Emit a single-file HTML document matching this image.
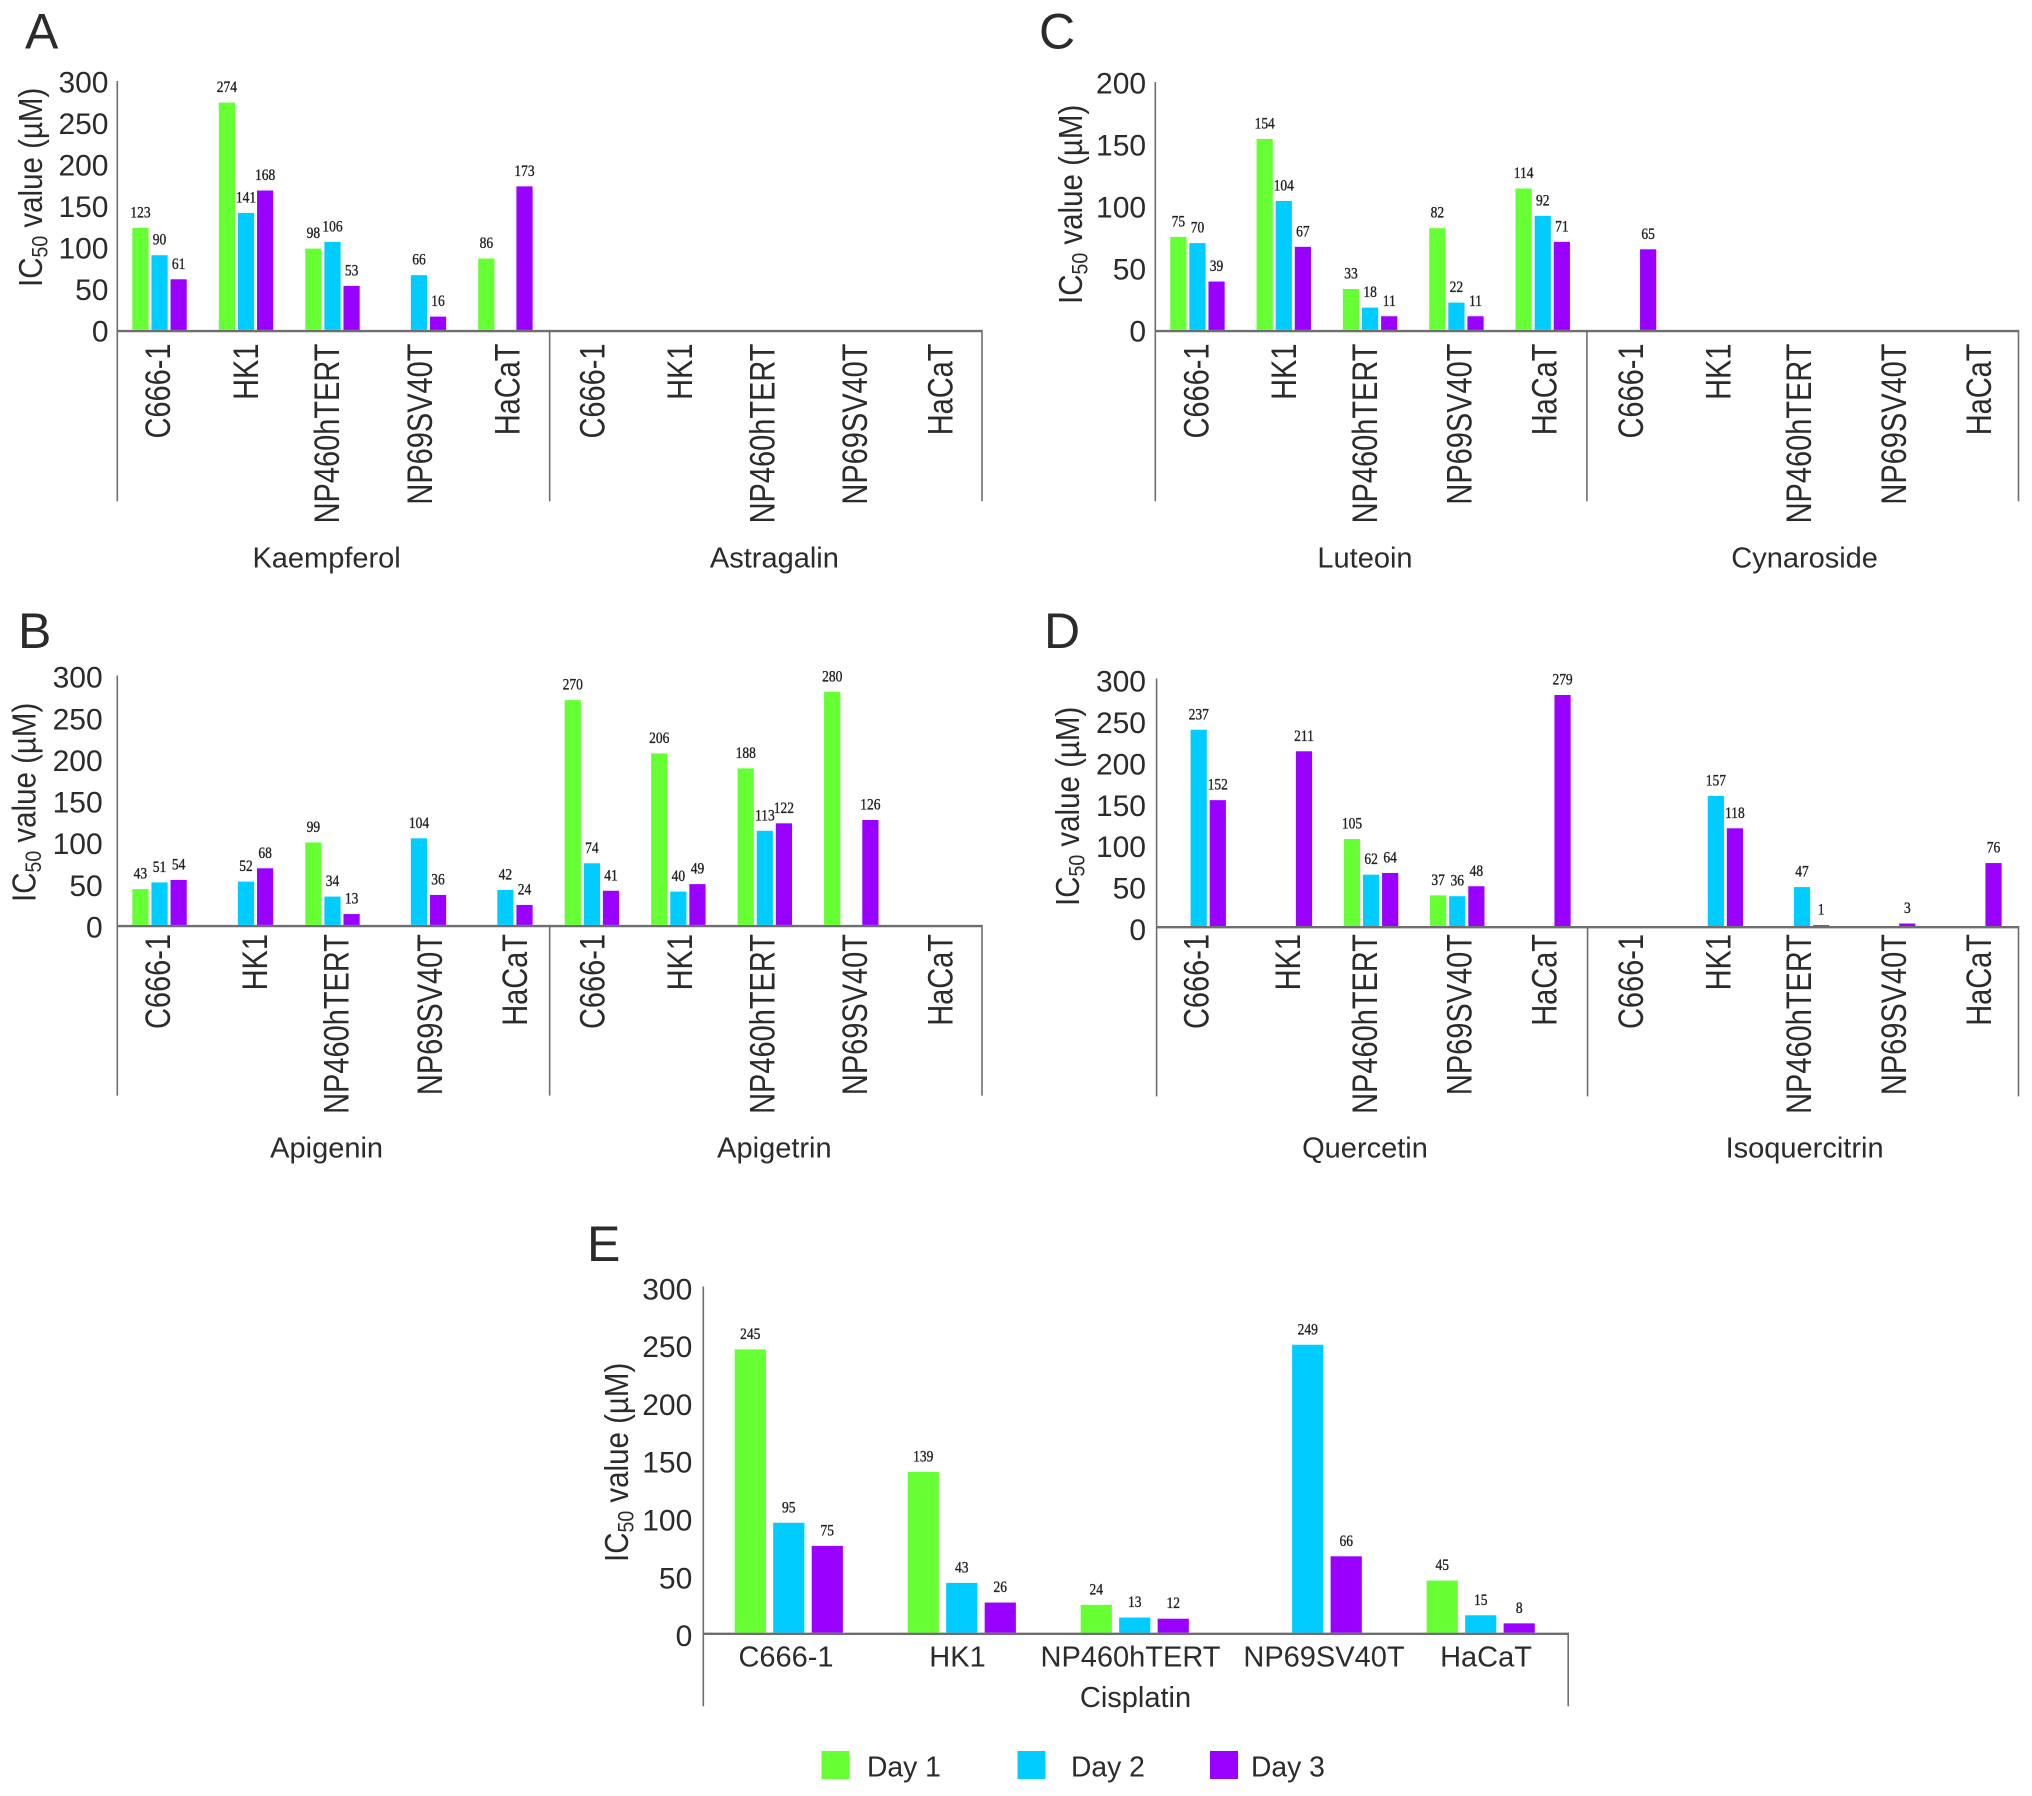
<!DOCTYPE html>
<html lang="en">
<head>
<meta charset="utf-8">
<title>IC50 values of flavonoids and cisplatin</title>
<style>
html,body{margin:0;padding:0;background:#fff;}
svg{display:block;}
text{font-family:"Liberation Sans",sans-serif;fill:#2b2b2b;}
.val{font-family:"Liberation Serif",serif;fill:#222;stroke:#222;stroke-width:0.3px;}
</style>
</head>
<body>
<svg id="chart" xmlns="http://www.w3.org/2000/svg" width="2032" height="1796" viewBox="0 0 2032 1796">
  <rect width="2032" height="1796" fill="#ffffff"/>
  <g>
    <g>
      <rect x="821.5" y="1751" width="28" height="28" fill="#66ff33"/>
      <text x="867" y="1776.5" font-size="28.3">Day 1</text>
    </g>
    <g>
      <rect x="1017.5" y="1751" width="28" height="28" fill="#00ccff"/>
      <text x="1071" y="1776.5" font-size="28.3">Day 2</text>
    </g>
    <g>
      <rect x="1210" y="1751" width="28" height="28" fill="#9900ff"/>
      <text x="1251" y="1776.5" font-size="28.3">Day 3</text>
    </g>
  </g>
</svg>
<script>
// ---- Chart data (null = no bar) ----
const cellLines = ["C666-1", "HK1", "NP460hTERT", "NP69SV40T", "HaCaT"];
const seriesNames = ["Day 1", "Day 2", "Day 3"];
const ticks300 = [0, 50, 100, 150, 200, 250, 300];
const ticks200 = [0, 50, 100, 150, 200];

const kaempferolDay1 = [123, 274, 98, null, 86];
const kaempferolDay2 = [90, 141, 106, 66, null];
const kaempferolDay3 = [61, 168, 53, 16, 173];
const astragalinDay1 = [null, null, null, null, null];
const astragalinDay2 = [null, null, null, null, null];
const astragalinDay3 = [null, null, null, null, null];

const apigeninDay1 = [43, null, 99, null, null];
const apigeninDay2 = [51, 52, 34, 104, 42];
const apigeninDay3 = [54, 68, 13, 36, 24];
const apigetrinDay1 = [270, 206, 188, 280, null];
const apigetrinDay2 = [74, 40, 113, null, null];
const apigetrinDay3 = [41, 49, 122, 126, null];

const luteoinDay1 = [75, 154, 33, 82, 114];
const luteoinDay2 = [70, 104, 18, 22, 92];
const luteoinDay3 = [39, 67, 11, 11, 71];
const cynarosideDay1 = [null, null, null, null, null];
const cynarosideDay2 = [null, null, null, null, null];
const cynarosideDay3 = [65, null, null, null, null];

const quercetinDay1 = [null, null, 105, 37, null];
const quercetinDay2 = [237, null, 62, 36, null];
const quercetinDay3 = [152, 211, 64, 48, 279];
const isoquercitrinDay1 = [null, null, null, null, null];
const isoquercitrinDay2 = [null, 157, 47, null, null];
const isoquercitrinDay3 = [null, 118, 1, 3, 76];

const cisplatinDay1 = [245, 139, 24, null, 45];
const cisplatinDay2 = [95, 43, 13, 249, 15];
const cisplatinDay3 = [75, 26, 12, 66, 8];

const seriesColors = ["#66ff33", "#00ccff", "#9900ff"];

const panelA = {
  letter: "A", letterX: 25, letterY: 48.6, ticks: ticks300,
  left: 117.3, right: 982, baseY: 329.9, axisTop: 81, bottomY: 501.3,
  pxPerUnit: 0.8296, barW: 16.2, pitch: 19.1, tickRight: 108.5, tickDy: 1,
  titleX: 42, titleY: 287, catTop: 343.5, groupTitleY: 567.5,
  catBaselines: [169.8, 257.9, 338.9, 432.2, 519.7, 604.6, 692, 774.4, 867, 952.6],
  groups: [
    { name: "Kaempferol", titleCx: 326.6, series: [kaempferolDay1, kaempferolDay2, kaempferolDay3] },
    { name: "Astragalin", titleCx: 774.4, series: [astragalinDay1, astragalinDay2, astragalinDay3] }
  ]
};
const panelB = {
  letter: "B", letterX: 18, letterY: 647.8, ticks: ticks300,
  left: 117.3, right: 982, baseY: 924.9, axisTop: 675.5, bottomY: 1095.6,
  pxPerUnit: 0.8325, barW: 16.2, pitch: 19.1, tickRight: 102.7, tickDy: 2,
  titleX: 35.6, titleY: 902, catTop: 934, groupTitleY: 1157.6,
  catBaselines: [169.8, 267, 348.6, 442, 526.8, 604.6, 692, 774.4, 867, 952.6],
  groups: [
    { name: "Apigenin", titleCx: 326.6, series: [apigeninDay1, apigeninDay2, apigeninDay3] },
    { name: "Apigetrin", titleCx: 774.4, series: [apigetrinDay1, apigetrinDay2, apigetrinDay3] }
  ]
};
const panelC = {
  letter: "C", letterX: 1039, letterY: 48.6, ticks: ticks200,
  left: 1155.3, right: 2018.5, baseY: 329.9, axisTop: 82, bottomY: 501.3,
  pxPerUnit: 1.24, barW: 16.2, pitch: 19.1, tickRight: 1146.1, tickDy: 1,
  titleX: 1082, titleY: 304, catTop: 343.5, groupTitleY: 567.5,
  catBaselines: [1208.5, 1296, 1377, 1471.5, 1556.4, 1643, 1730.7, 1811, 1906, 1991],
  groups: [
    { name: "Luteoin", titleCx: 1365, series: [luteoinDay1, luteoinDay2, luteoinDay3] },
    { name: "Cynaroside", titleCx: 1804.6, series: [cynarosideDay1, cynarosideDay2, cynarosideDay3] }
  ]
};
const panelD = {
  letter: "D", letterX: 1044, letterY: 647.8, ticks: ticks300,
  left: 1156.6, right: 2018.5, baseY: 926, axisTop: 678.5, bottomY: 1096.4,
  pxPerUnit: 0.828, barW: 16.2, pitch: 19.1, tickRight: 1146, tickDy: 3.5,
  titleX: 1079, titleY: 906, catTop: 934, groupTitleY: 1157.6,
  catBaselines: [1208.5, 1299.8, 1377, 1471.5, 1556.4, 1643, 1730.7, 1811, 1906, 1991],
  groups: [
    { name: "Quercetin", titleCx: 1365, series: [quercetinDay1, quercetinDay2, quercetinDay3] },
    { name: "Isoquercitrin", titleCx: 1804.6, series: [isoquercitrinDay1, isoquercitrinDay2, isoquercitrinDay3] }
  ]
};
const panelE = {
  letter: "E", letterX: 587, letterY: 1260.8, ticks: ticks300,
  left: 703.3, right: 1568.2, baseY: 1632.6, axisTop: 1286.5, bottomY: 1706.3,
  pxPerUnit: 1.156, barW: 31.2, pitch: 38.5, tickRight: 692.3, tickDy: 3,
  titleX: 628, titleY: 1562, horizontalCats: true, catBaselineY: 1666.4, groupTitleY: 1707,
  catCenters: [786, 957.5, 1130.5, 1324, 1486],
  groups: [
    { name: "Cisplatin", titleCx: 1135.5, series: [cisplatinDay1, cisplatinDay2, cisplatinDay3] }
  ]
};
const panels = [panelA, panelB, panelC, panelD, panelE];

// ---- Drawing ----
const NS = "http://www.w3.org/2000/svg";
const root = document.getElementById("chart");

function make(tag, attrs, parent, txt) {
  const el = document.createElementNS(NS, tag);
  for (const k in attrs) el.setAttribute(k, attrs[k]);
  if (txt !== undefined) el.textContent = txt;
  parent.appendChild(el);
  return el;
}
function yScale(p, v) { return p.baseY - v * p.pxPerUnit; }
function xScale(p, catIndex, seriesIndex) {
  const total = p.groups.length * cellLines.length;
  const catW = (p.right - p.left) / total;
  return p.left - 1 + catW * (catIndex + 0.5) + (seriesIndex - 1) * p.pitch;
}
function slug(s) { return s.toLowerCase().replace(/[^a-z0-9]+/g, "-"); }

panels.forEach(function (p) {
  const key = p.letter.toLowerCase();
  const g = make("g", {}, root);
  
  

  const letter = make("text", { x: p.letterX, y: p.letterY, "font-size": 50, fill: "#111" }, g, p.letter);
  
  

  // y axis title
  const title = make("text", {
    transform: "translate(" + p.titleX + "," + p.titleY + ") rotate(-90) scale(1,1.12)",
    "font-size": 29.5
  }, g);
  
  
  make("tspan", {}, title, "IC");
  make("tspan", { "font-size": 19.5, dy: 5 }, title, "50");
  make("tspan", { dy: -5 }, title, " value (\u00b5M)");

  // y ticks
  p.ticks.forEach(function (t) {
    const tl = make("text", {
      x: p.tickRight, y: yScale(p, t) + p.tickDy + 10.5, "text-anchor": "end", "font-size": 30
    }, g, String(t));
    
    
  });

  // axis lines (drawn below the bars; the x axis line sits just under the bar feet)
  const axisStroke = "#6e6e6e";
  const yAxis = make("line", { x1: p.left, x2: p.left, y1: p.axisTop, y2: p.bottomY, stroke: axisStroke, "stroke-width": 1.6 }, g);
  
  
  const xAxis = make("line", { x1: p.left, x2: p.right, y1: p.baseY + 1.2, y2: p.baseY + 1.2, stroke: axisStroke, "stroke-width": 2.4 }, g);
  
  
  const endLine = make("line", { x1: p.right, x2: p.right, y1: p.baseY, y2: p.bottomY, stroke: axisStroke, "stroke-width": 1.6 }, g);
  
  
  if (p.groups.length === 2) {
    const mid = (p.left + p.right) / 2;
    const sep = make("line", { x1: mid, x2: mid, y1: p.baseY, y2: p.bottomY, stroke: axisStroke, "stroke-width": 1.6 }, g);
    
    
  }

  // bars and value labels
  p.groups.forEach(function (grp, gi) {
    const gEl = make("g", {}, g);
    
    
    grp.series.forEach(function (vals, si) {
      vals.forEach(function (v, ci) {
        if (v === null) return;
        const idx = gi * cellLines.length + ci;
        const cx = xScale(p, idx, si);
        const top = yScale(p, v);
        const bar = make("rect", {
          x: cx - p.barW / 2, y: top, width: p.barW, height: p.baseY - top, fill: seriesColors[si]
        }, gEl);
        
        
        const lab = make("text", {
          class: "val", "text-anchor": "middle", "font-size": 13.5,
          transform: "translate(" + cx + "," + (top - 10.5) + ") scale(1,1.2)"
        }, gEl, String(v));
        
        
      });
    });
    const gt = make("text", {
      x: grp.titleCx, y: p.groupTitleY, "text-anchor": "middle", "font-size": 29
    }, gEl, grp.name);
    
    
  });

  // category labels
  const total = p.groups.length * cellLines.length;
  for (let i = 0; i < total; i++) {
    const name = cellLines[i % cellLines.length];
    let lbl;
    if (p.horizontalCats) {
      lbl = make("text", {
        x: p.catCenters[i], y: p.catBaselineY, "text-anchor": "middle", "font-size": 29
      }, g, name);
    } else {
      lbl = make("text", {
        "text-anchor": "end", "font-size": 29,
        transform: "translate(" + p.catBaselines[i] + "," + p.catTop + ") rotate(-90) scale(1,1.22)"
      }, g, name);
    }
    
    
  }
});
</script>
</body>
</html>
